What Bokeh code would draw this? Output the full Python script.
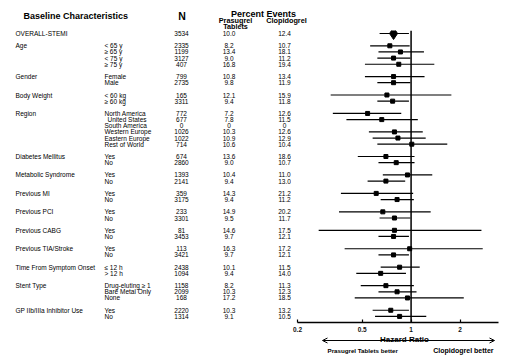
from bokeh.plotting import figure
from bokeh.layouts import column, row
from bokeh.models import Range1d, Span, FixedTicker, Arrow, OpenHead
from bokeh.core.properties import value
from bokeh.embed import file_html
from bokeh.resources import INLINE

# ---------------- data ----------------
groups = ["OVERALL-STEMI", "Age", "Gender", "Body Weight", "Region",
          "Diabetes Mellitus", "Metabolic Syndrome", "Previous MI",
          "Previous PCI", "Previous CABG", "Previous TIA/Stroke",
          "Time From Symptom Onset", "Stent Type", "GP IIb/IIIa Inhibitor Use"]
subgroups = [
    [""],
    ["< 65 y", "\u2265 65 y", "< 75 y", "\u2265 75 y"],
    ["Female", "Male"],
    ["< 60 kg", "\u2265 60 kg"],
    ["North America", "United States", "South America", "Western Europe",
     "Eastern Europe", "Rest of World"],
    ["Yes", "No"],
    ["Yes", "No"],
    ["Yes", "No"],
    ["Yes", "No"],
    ["Yes", "No"],
    ["Yes", "No"],
    ["\u2264 12 h", "> 12 h"],
    ["Drug-eluting \u2265 1", "Bare Metal Only", "None"],
    ["Yes", "No"],
]
n_pts = [3534, 2335, 1199, 3127, 407, 799, 2735, 165, 3311,
         772, 677, 0, 1026, 1022, 714, 674, 2860, 1393, 2141,
         359, 3175, 233, 3301, 81, 3453, 113, 3421, 2438, 1094,
         1158, 2099, 168, 2220, 1314]
prasugrel = [10.0, 8.2, 13.4, 9.0, 16.8, 10.8, 9.8, 12.1, 9.4,
             7.2, 7.8, 0, 10.3, 10.9, 10.6, 13.6, 9.0, 10.4, 9.4,
             14.3, 9.4, 14.9, 9.5, 14.6, 9.7, 16.3, 9.7, 10.1, 9.4,
             8.2, 10.3, 17.2, 10.3, 9.1]
clopidogrel = [12.4, 10.7, 18.1, 11.2, 19.4, 13.4, 11.9, 15.9, 11.8,
               12.6, 11.5, 0, 12.6, 12.9, 10.4, 18.6, 10.7, 11.0, 13.0,
               21.2, 11.2, 20.2, 11.7, 17.5, 12.1, 17.2, 12.1, 11.5, 14.0,
               11.3, 12.3, 18.5, 13.2, 10.5]
hr = [0.78, 0.74, 0.86, 0.78, 0.84, 0.78, 0.78, 0.71, 0.77,
      0.54, 0.66, None, 0.79, 0.83, 1.01, 0.70, 0.81, 0.95, 0.70,
      0.61, 0.82, 0.67, 0.79, 0.79, 0.78, 0.98, 0.78, 0.85, 0.65,
      0.70, 0.82, 0.95, 0.75, 0.85]
hr_lo = [0.64, 0.56, 0.63, 0.62, 0.52, 0.52, 0.62, 0.32, 0.62,
         0.33, 0.40, None, 0.55, 0.58, 0.62, 0.47, 0.63, 0.67, 0.54,
         0.37, 0.65, 0.36, 0.64, 0.27, 0.63, 0.39, 0.63, 0.65, 0.46,
         0.49, 0.63, 0.45, 0.58, 0.60]
hr_hi = [0.97, 0.98, 1.20, 0.99, 1.39, 1.21, 0.99, 1.77, 0.97,
         0.87, 1.10, None, 1.18, 1.23, 1.67, 1.05, 1.05, 1.35, 0.92,
         1.03, 1.04, 1.32, 0.99, 2.71, 0.97, 2.76, 0.97, 1.13, 0.93,
         1.04, 1.08, 2.11, 0.97, 1.24]
x_ticks = [0.2, 0.5, 1, 2]
x_tick_labels = ["0.2", "0.5", "1", "2"]

# ---------------- row layout ----------------
row_idx, sub_labels, grp_rows = [], [], []
cur = 0
for g, subs in zip(groups, subgroups):
    grp_rows.append(cur)
    for s in subs:
        row_idx.append(cur)
        sub_labels.append(s)
        cur += 1
    cur += 1

FONT = "Liberation Sans"
W, H = 506, 358
ROW0 = 33.0      # page y of first row
ROWH = 6.15      # px per row
TOP = 30.0       # page y where the main figures start
FRAME_BOT = 322.0
MAIN_BOT = 334.0
LEFT_W = 291
FRAME_L, FRAME_R = 297, 498

def idx_at(py):
    return (py - ROW0) / ROWH

def fmt_pct(v):
    return "0" if v == 0 else f"{v:.1f}"

def bare(p):
    p.grid.visible = False
    p.outline_line_color = None
    p.min_border_left = p.min_border_right = 0
    p.min_border_top = p.min_border_bottom = 0
    p.background_fill_color = "white"
    p.border_fill_color = "white"

# ---------------- header ----------------
hdr = figure(width=W, height=int(TOP), output_backend="svg", toolbar_location=None,
             x_axis_location=None, y_axis_location=None,
             x_range=Range1d(0, W), y_range=Range1d(TOP, 0))
bare(hdr)
hdr.text(x=[23], y=[15.5], text=["Baseline Characteristics"], text_font=value(FONT),
         text_font_style="bold", text_font_size="9px", text_baseline="alphabetic")
hdr.text(x=[181.5], y=[15.2], text=["N"], text_font=value(FONT), text_font_style="bold",
         text_font_size="10.5px", text_align="center", text_baseline="alphabetic")
hdr.text(x=[263], y=[13.6], text=["Percent Events"], text_font=value(FONT),
         text_font_style="bold", text_font_size="9px", text_align="center",
         text_baseline="alphabetic")
hdr.text(x=[235, 286], y=[20.0, 20.0], text=["Prasugrel", "Clopidogrel"],
         text_font=value(FONT), text_font_style="bold", text_font_size="7.3px",
         text_align="center", text_baseline="alphabetic")
hdr.text(x=[235], y=[25.8], text=["Tablets"], text_font=value(FONT),
         text_font_style="bold", text_font_size="7.2px", text_align="center",
         text_baseline="alphabetic")

# ---------------- left table ----------------
BORDER_B = int(MAIN_BOT - FRAME_BOT)
left = figure(width=LEFT_W, height=int(MAIN_BOT - TOP), output_backend="svg",
              toolbar_location=None, x_axis_location=None, y_axis_location=None,
              x_range=Range1d(0, LEFT_W),
              y_range=Range1d(idx_at(FRAME_BOT), idx_at(TOP)))
bare(left)
left.min_border_bottom = BORDER_B
tkw = dict(text_font=value(FONT), text_font_size="6.5px", text_baseline="middle",
           text_color="#000000")
left.text(x=[15] * len(groups), y=grp_rows, text=groups, **tkw)
left.text(x=[107 if s == "United States" else 104 for s in sub_labels], y=row_idx,
          text=sub_labels, **tkw)
left.text(x=[181] * len(row_idx), y=row_idx, text=[str(v) for v in n_pts],
          text_align="center", **tkw)
left.text(x=[228.5] * len(row_idx), y=row_idx, text=[fmt_pct(v) for v in prasugrel],
          text_align="center", **tkw)
left.text(x=[284] * len(row_idx), y=row_idx, text=[fmt_pct(v) for v in clopidogrel],
          text_align="center", **tkw)

# ---------------- forest ----------------
PX_DEC = 162.5
x_end = 0.2 * 10 ** ((FRAME_R - FRAME_L) / PX_DEC)
right = figure(width=W - LEFT_W, height=int(MAIN_BOT - TOP), output_backend="svg",
               toolbar_location=None, x_axis_type="log", y_axis_location=None,
               x_range=Range1d(0.2, x_end),
               y_range=Range1d(idx_at(FRAME_BOT), idx_at(TOP)))
bare(right)
right.min_border_left = FRAME_L - LEFT_W
right.min_border_right = W - FRAME_R
right.min_border_bottom = BORDER_B
ax = right.xaxis[0]
ax.ticker = FixedTicker(ticks=x_ticks, minor_ticks=[])
ax.major_label_overrides = {t: l for t, l in zip(x_ticks, x_tick_labels)}
ax.axis_line_width = 1.6
ax.major_tick_in = 3
ax.major_tick_out = 0
ax.major_tick_line_width = 1.2
ax.minor_tick_line_color = None
ax.major_label_standoff = 4
ax.major_label_text_font = FONT
ax.major_label_text_font_style = "bold"
ax.major_label_text_font_size = "6.5px"
ax.major_label_text_color = "#111111"

keep = [i for i in range(len(hr)) if hr[i] is not None]
ys = [row_idx[i] for i in keep]
right.segment(x0=[hr_lo[i] for i in keep], y0=ys, x1=[hr_hi[i] for i in keep], y1=ys,
              line_color="black", line_width=1.2)
sq = [i for i in keep if i != 0]
right.scatter(x=[hr[i] for i in sq], y=[row_idx[i] for i in sq], marker="square",
              size=4, color="black")
right.scatter(x=[hr[0]], y=[row_idx[0]], marker="diamond", size=12, color="black")
right.add_layout(Span(location=1, dimension="height", line_color="black",
                      line_width=1.5))

# ---------------- bottom annotation ----------------
bot = figure(width=W, height=int(H - MAIN_BOT), output_backend="svg",
             toolbar_location=None, x_axis_location=None, y_axis_location=None,
             x_range=Range1d(0, W), y_range=Range1d(H, MAIN_BOT))
bare(bot)
bot.add_layout(Arrow(x_start=322, y_start=340, x_end=494, y_end=340,
                     start=OpenHead(size=5, line_width=1),
                     end=OpenHead(size=5, line_width=1), line_width=1))
bot.text(x=[404], y=[339.3], text=["Hazard Ratio"], text_font=value(FONT),
         text_font_style="bold", text_font_size="8px", text_align="center",
         text_baseline="alphabetic")
bot.text(x=[327], y=[350], text=["Prasugrel Tablets better"], text_font=value(FONT),
         text_font_style="bold", text_font_size="6.2px", text_baseline="middle")
bot.text(x=[493], y=[350], text=["Clopidogrel better"], text_font=value(FONT),
         text_font_style="bold", text_font_size="7px", text_align="right",
         text_baseline="middle")

layout = column(hdr, row(left, right), bot)
open("out.html", "w").write(file_html(layout, INLINE, title="Forest plot"))
